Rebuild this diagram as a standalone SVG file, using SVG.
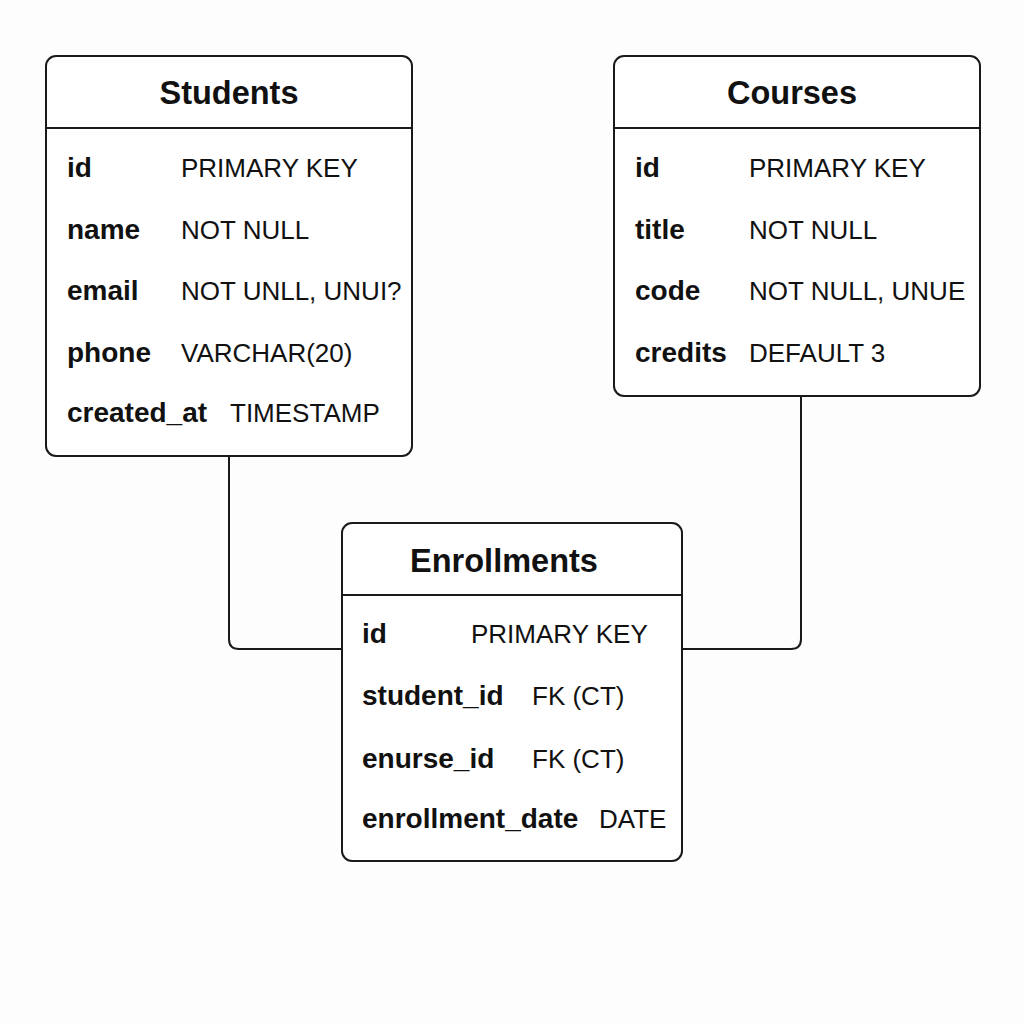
<svg xmlns="http://www.w3.org/2000/svg" width="1024" height="1024" viewBox="0 0 1024 1024">
<style>
.box{fill:#fff;stroke:#1a1a1a;stroke-width:2}
.div{stroke:#1a1a1a;stroke-width:2}
.title{font-family:"Liberation Sans",Arial,sans-serif;font-size:32.5px;font-weight:bold;fill:#111;text-anchor:middle}
.lbl{font-family:"Liberation Sans",Arial,sans-serif;font-size:28px;font-weight:bold;fill:#111}
.val{font-family:"Liberation Sans",Arial,sans-serif;font-size:26px;fill:#111}
.conn{fill:none;stroke:#1a1a1a;stroke-width:2}
</style>
<rect width="1024" height="1024" fill="#fdfdfd"/>
<g id="connectors">
<path class="conn" d="M229 456 V639 Q229 649 239 649 H342"/>
<path class="conn" d="M801 396 V639 Q801 649 791 649 H682"/>
</g>
<g id="students">
<rect class="box" x="46" y="56" width="366" height="400" rx="10"/>
<line class="div" x1="46" y1="128" x2="412" y2="128"/>
<text class="title" x="229" y="104">Students</text>
<text class="lbl" x="67" y="177">id</text><text class="val" x="181" y="177">PRIMARY KEY</text>
<text class="lbl" x="67" y="239">name</text><text class="val" x="181" y="239">NOT NULL</text>
<text class="lbl" x="67" y="300">email</text><text class="val" x="181" y="300">NOT UNLL, UNUI?</text>
<text class="lbl" x="67" y="362">phone</text><text class="val" x="181" y="362">VARCHAR(20)</text>
<text class="lbl" x="67" y="422">created_at</text><text class="val" x="230" y="422">TIMESTAMP</text>
</g>
<g id="courses">
<rect class="box" x="614" y="56" width="366" height="340" rx="10"/>
<line class="div" x1="614" y1="128" x2="980" y2="128"/>
<text class="title" x="792" y="104">Courses</text>
<text class="lbl" x="635" y="177">id</text><text class="val" x="749" y="177">PRIMARY KEY</text>
<text class="lbl" x="635" y="239">title</text><text class="val" x="749" y="239">NOT NULL</text>
<text class="lbl" x="635" y="300">code</text><text class="val" x="749" y="300">NOT NULL, UNUE</text>
<text class="lbl" x="635" y="362">credits</text><text class="val" x="749" y="362">DEFAULT 3</text>
</g>
<g id="enrollments">
<rect class="box" x="342" y="523" width="340" height="338" rx="10"/>
<line class="div" x1="342" y1="595" x2="682" y2="595"/>
<text class="title" x="504" y="572">Enrollments</text>
<text class="lbl" x="362" y="643">id</text><text class="val" x="471" y="643">PRIMARY KEY</text>
<text class="lbl" x="362" y="705">student_id</text><text class="val" x="532" y="705">FK (CT)</text>
<text class="lbl" x="362" y="768">enurse_id</text><text class="val" x="532" y="768">FK (CT)</text>
<text class="lbl" x="362" y="828">enrollment_date</text><text class="val" x="599" y="828">DATE</text>
</g>
</svg>
